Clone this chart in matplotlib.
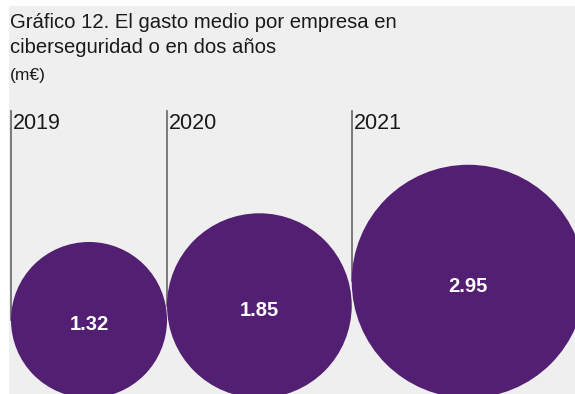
import numpy as np
import matplotlib.pyplot as plt
from matplotlib.patches import Circle, Rectangle

# Average spend per company on cybersecurity (millions of euros)
years = ['2019', '2020', '2021']
spend = [1.32, 1.85, 2.95]

title_lines = ['Gráfico 12. El gasto medio por empresa en',
               'ciberseguridad o en dos años']
unit = '(m€)'

purple = '#521f72'
panel = '#efefef'

plt.rcParams['font.family'] = ['Liberation Sans', 'DejaVu Sans']

W, H = 575, 394
fig = plt.figure(figsize=(W / 100, H / 100), dpi=100, facecolor='white')
ax = fig.add_axes([0, 0, 1, 1])
ax.set_xlim(0, W)
ax.set_ylim(H, 0)
ax.set_aspect('equal')
ax.axis('off')

# grey panel behind everything
ax.add_patch(Rectangle((9, 6), W - 9, H - 6, facecolor=panel, edgecolor='none', zorder=0))

for i, line in enumerate(title_lines):
    ax.text(10, 28 + 25 * i, line, fontsize=14.6, color='#1a1a1a', ha='left', va='baseline')
ax.text(10, 80, unit, fontsize=12.5, color='#1a1a1a', ha='left', va='baseline')

# bubble area proportional to value, bubbles sitting on a common baseline
scale = 67.9
radii = [scale * np.sqrt(v) for v in spend]
base = 398
left = 11
for year, v, r in zip(years, spend, radii):
    cx = left + r
    cy = base - r
    ax.add_patch(Circle((cx, cy), r, facecolor=purple, edgecolor='none', zorder=2))
    ax.plot([left, left], [111, cy], color='#666666', lw=1.2, zorder=1)
    ax.text(left + 2, 129, year, fontsize=15.5, color='#1a1a1a', ha='left', va='baseline')
    ax.text(cx, cy + 5, f'{v:.2f}', fontsize=14.5, color='white', fontweight='bold',
            ha='center', va='center', zorder=3)
    left += 2 * r

fig.savefig('out.png', dpi=100, facecolor='white')
